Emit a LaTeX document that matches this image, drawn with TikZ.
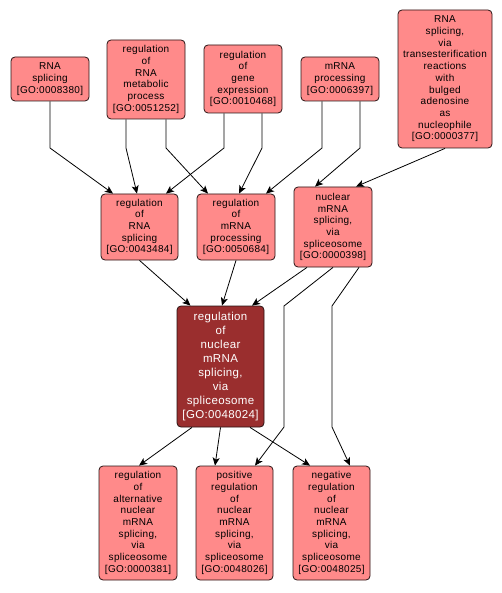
\documentclass[tikz,border=0pt]{standalone}
\usepackage{fontspec}
\setmainfont{Liberation Sans}
\newfontfamily\gofont[LetterSpace=3]{Liberation Sans}
\usetikzlibrary{arrows.meta,positioning}
\definecolor{TermPink}{RGB}{255,138,138}
\definecolor{TermDark}{RGB}{154,46,46}
\definecolor{TermLine}{RGB}{40,20,20}
\tikzset{
  term/.style={draw=TermLine,rounded corners=4pt,fill=TermPink,line width=0.8pt,
    minimum width=78pt,inner sep=1pt,align=center,
    font=\gofont\fontsize{10}{11.7}\selectfont},
  focus/.style={term,fill=TermDark,text=white,minimum width=87pt,
    font=\gofont\fontsize{11.5}{14}\selectfont},
  edge/.style={-{Stealth[length=8pt,width=7pt,inset=2pt]},line width=0.8pt,black}
}
\begin{document}
\begin{tikzpicture}[x=1pt,y=-1pt]
  \useasboundingbox (0,0) rectangle (502,593);
  % top row
  \node[term,minimum height=44pt] (rnasplice) at (50,79)
    {RNA\\splicing\\{[}GO:0008380{]}};
  \node[term,minimum height=79pt] (regrnamet) at (146,79.5)
    {regulation\\of\\RNA\\metabolic\\process\\{[}GO:0051252{]}};
  \node[term,minimum height=68pt] (reggene) at (243,79)
    {regulation\\of\\gene\\expression\\{[}GO:0010468{]}};
  \node[term,minimum height=44pt] (mrnaproc) at (340,79)
    {mRNA\\processing\\{[}GO:0006397{]}};
  \node[term,minimum width=94pt,minimum height=138pt] (transest) at (445,79)
    {RNA\\splicing,\\via\\transesterification\\reactions\\with\\bulged\\adenosine\\as\\nucleophile\\{[}GO:0000377{]}};
  % middle row
  \node[term,minimum width=77pt,minimum height=66pt] (regrnasplice) at (139.5,227)
    {regulation\\of\\RNA\\splicing\\{[}GO:0043484{]}};
  \node[term,minimum height=66pt] (regmrnaproc) at (236,227)
    {regulation\\of\\mRNA\\processing\\{[}GO:0050684{]}};
  \node[term,minimum height=80pt] (nucsplice) at (333,227)
    {nuclear\\mRNA\\splicing,\\via\\spliceosome\\{[}GO:0000398{]}};
  % focus term
  \node[focus,minimum height=121pt] (regnucsplice) at (220.5,366.5)
    {regulation\\of\\nuclear\\mRNA\\splicing,\\via\\spliceosome\\{[}GO:0048024{]}};
  % bottom row
  \node[term,minimum height=114pt] (regalt) at (138,523)
    {regulation\\of\\alternative\\nuclear\\mRNA\\splicing,\\via\\spliceosome\\{[}GO:0000381{]}};
  \node[term,minimum width=77pt,minimum height=114pt] (posreg) at (234.5,523)
    {positive\\regulation\\of\\nuclear\\mRNA\\splicing,\\via\\spliceosome\\{[}GO:0048026{]}};
  \node[term,minimum width=77pt,minimum height=114pt] (negreg) at (331.5,523)
    {negative\\regulation\\of\\nuclear\\mRNA\\splicing,\\via\\spliceosome\\{[}GO:0048025{]}};

  % bend levels
  \coordinate (bendtop) at (0,148);
  \coordinate (bendmid) at (0,306);
  \coordinate (bendlow) at (0,427);

  % edges into the middle row
  \draw[edge] (rnasplice.south) -- (rnasplice.south |- bendtop) -- ([xshift=-26.5pt]regrnasplice.north);
  \draw[edge] ([xshift=-20pt]regrnamet.south) -- ([xshift=-20pt]regrnamet.south |- bendtop) -- ([xshift=-2.5pt]regrnasplice.north);
  \draw[edge] ([xshift=20pt]regrnamet.south) -- ([xshift=20pt]regrnamet.south |- bendtop) -- ([xshift=-28pt]regmrnaproc.north);
  \draw[edge] ([xshift=-19pt]reggene.south) -- ([xshift=-19pt]reggene.south |- bendtop) -- ([xshift=26.5pt]regrnasplice.north);
  \draw[edge] ([xshift=19pt]reggene.south) -- ([xshift=19pt]reggene.south |- bendtop) -- ([xshift=3pt]regmrnaproc.north);
  \draw[edge] ([xshift=-18pt]mrnaproc.south) -- ([xshift=-18pt]mrnaproc.south |- bendtop) -- ([xshift=30pt]regmrnaproc.north);
  \draw[edge] ([xshift=20pt]mrnaproc.south) -- ([xshift=20pt]mrnaproc.south |- bendtop) -- ([xshift=-18pt]nucsplice.north);
  \draw[edge] (transest.south) -- ([xshift=23pt]nucsplice.north);
  % edges into the focus term
  \draw[edge] (regrnasplice.south) -- ([xshift=-30pt]regnucsplice.north);
  \draw[edge] (regmrnaproc.south) -- ([xshift=1.5pt]regnucsplice.north);
  \draw[edge] ([xshift=-26pt]nucsplice.south) -- ([xshift=31.5pt]regnucsplice.north);
  % edges into the bottom row
  \draw[edge] (nucsplice.south) -- (284,0 |- bendmid) -- (284,0 |- bendlow) -- ([xshift=20.5pt]posreg.north);
  \draw[edge] ([xshift=26pt]nucsplice.south) -- (332,0 |- bendmid) -- (332,0 |- bendlow) -- ([xshift=18.5pt]negreg.north);
  \draw[edge] ([xshift=-28.5pt]regnucsplice.south) -- ([xshift=1pt]regalt.north);
  \draw[edge] (regnucsplice.south) -- ([xshift=-19.5pt]posreg.north);
  \draw[edge] ([xshift=29.5pt]regnucsplice.south) -- ([xshift=-21.5pt]negreg.north);
\end{tikzpicture}
\end{document}
